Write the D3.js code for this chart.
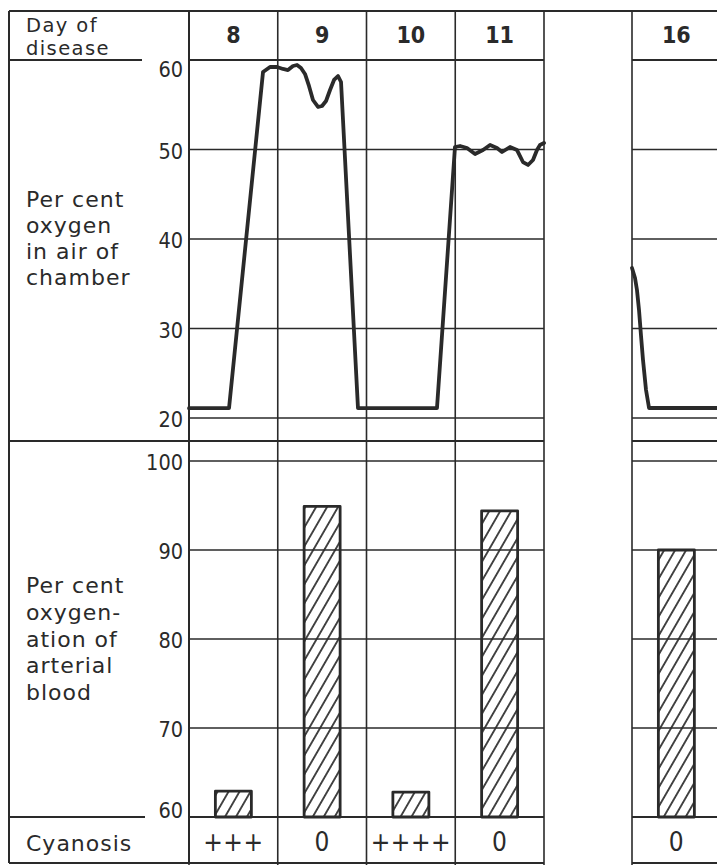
<!DOCTYPE html>
<html>
<head>
<meta charset="utf-8">
<script src="https://cdn.jsdelivr.net/npm/d3@7/dist/d3.min.js"></script>
<style>
  html, body { margin: 0; padding: 0; background: #fff; }
  svg { display: block; }
</style>
</head>
<body>
<script>
// ---------- DATA ----------
const days = [8, 9, 10, 11, 16];
const cyanosis = ["+++", "0", "++++", "0", "0"];
const bloodOxygen = [62.9, 94.9, 62.8, 94.4, 90.0];
const airTicks = [20, 30, 40, 50, 60];
const bloodTicks = [60, 70, 80, 90, 100];
const columnEdges = [8, 9, 10, 11, 12, 16, 17];
const segments = [[8, 12], [16, 17]];

// oxygen in chamber air, days 8-12 (continuous record)
const airDays1 = [8.0, 8.451, 8.834, 8.913, 8.992, 9.059, 9.115, 9.172, 9.217, 9.262, 9.307, 9.352,
                  9.397, 9.454, 9.499, 9.544, 9.589, 9.634, 9.679, 9.713, 9.904,
                  10.794, 10.997, 11.054, 11.132, 11.223, 11.313, 11.392, 11.470, 11.527, 11.617,
                  11.696, 11.763, 11.820, 11.876, 11.921, 11.955, 12.0];
const airVals1 = [21.1, 21.1, 58.66, 59.22, 59.22, 59.0, 58.88, 59.33, 59.44, 59.1, 58.44, 57.1,
                  55.53, 54.75, 54.86, 55.42, 56.65, 57.77, 58.21, 57.54, 21.1,
                  21.1, 50.28, 50.39, 50.17, 49.5, 49.94, 50.5, 50.17, 49.72, 50.28,
                  49.94, 48.6, 48.27, 48.83, 49.94, 50.5, 50.73];
// day 16 record
const airDays2 = [16.0, 16.034, 16.056, 16.079, 16.101, 16.124, 16.158, 16.192, 17.0];
const airVals2 = [36.76, 35.64, 34.3, 32.07, 29.27, 26.48, 23.13, 21.12, 21.12];

const labelAir = ["Per cent", "oxygen", "in air of", "chamber"];
const labelBlood = ["Per cent", "oxygen-", "ation of", "arterial", "blood"];
const labelDay = ["Day of", "disease"];
const labelCyan = "Cyanosis";

// ---------- DRAW ----------
(function () {
const W = 717, H = 865;
const ink = "#2a2a2a";
const svg = d3.select("body").append("svg").attr("width", W).attr("height", H);

const x = d3.scaleLinear().domain([8, 12, 16, 17]).range([189, 544, 632, 720.75]);
const yAir = d3.scaleLinear().domain([20, 60]).range([418, 60]);
const yBlood = d3.scaleLinear().domain([60, 100]).range([817, 461]);

const frameL = 9, frameT = 11, labelRight = 189, divider = 441, frameB = 863;

const defs = svg.append("defs");
const pat = defs.append("pattern").attr("id", "hatch").attr("patternUnits", "userSpaceOnUse")
  .attr("width", 9.5).attr("height", 9.5).attr("patternTransform", "rotate(30)");
pat.append("line").attr("x1", 4.75).attr("y1", -2).attr("x2", 4.75).attr("y2", 12)
  .attr("stroke", ink).attr("stroke-width", 1.7);

const grid = svg.append("g").attr("stroke", ink).attr("fill", "none");

// outer frame
grid.append("line").attr("x1", frameL).attr("x2", W).attr("y1", frameT).attr("y2", frameT).attr("stroke-width", 2);
grid.append("line").attr("x1", frameL).attr("x2", frameL).attr("y1", frameT).attr("y2", frameB).attr("stroke-width", 2);
grid.append("line").attr("x1", labelRight).attr("x2", labelRight).attr("y1", frameT).attr("y2", frameB).attr("stroke-width", 2);

// label column rules
grid.append("line").attr("x1", frameL).attr("x2", 142).attr("y1", yAir(60)).attr("y2", yAir(60)).attr("stroke-width", 2);
grid.append("line").attr("x1", frameL).attr("x2", labelRight).attr("y1", divider).attr("y2", divider).attr("stroke-width", 2);
grid.append("line").attr("x1", frameL).attr("x2", 145).attr("y1", yBlood(60)).attr("y2", yBlood(60)).attr("stroke-width", 2);
grid.append("line").attr("x1", frameL).attr("x2", labelRight).attr("y1", frameB).attr("y2", frameB).attr("stroke-width", 2);

// column edges
columnEdges.forEach(d => {
  grid.append("line").attr("x1", x(d)).attr("x2", x(d)).attr("y1", frameT).attr("y2", H)
    .attr("stroke-width", 1.6);
});

// horizontal rules per segment
segments.forEach(([a, b]) => {
  const x1 = x(a), x2 = x(b);
  airTicks.forEach(t => {
    grid.append("line").attr("x1", x1).attr("x2", x2).attr("y1", yAir(t)).attr("y2", yAir(t))
      .attr("stroke-width", t === 60 ? 2 : 1.5);
  });
  bloodTicks.forEach(t => {
    grid.append("line").attr("x1", x1).attr("x2", x2).attr("y1", yBlood(t)).attr("y2", yBlood(t))
      .attr("stroke-width", t === 60 ? 2 : 1.5);
  });
  grid.append("line").attr("x1", x1).attr("x2", x2).attr("y1", divider).attr("y2", divider).attr("stroke-width", 2);
  grid.append("line").attr("x1", x1).attr("x2", x2).attr("y1", frameB).attr("y2", frameB).attr("stroke-width", 2);
});

// tick labels
const tickFont = "'Liberation Sans Narrow', 'DejaVu Sans Condensed', sans-serif";
airTicks.forEach(t => {
  svg.append("text").attr("x", 183).attr("y", yAir(t) + (t === 60 ? 17 : 9))
    .attr("text-anchor", "end").attr("font-family", tickFont).attr("font-size", 21.5)
    .attr("fill", ink).text(t);
});
bloodTicks.forEach(t => {
  svg.append("text").attr("x", 183).attr("y", yBlood(t) + (t === 60 ? 1 : 9))
    .attr("text-anchor", "end").attr("font-family", tickFont).attr("font-size", 21.5)
    .attr("fill", ink).text(t);
});

// day labels
days.forEach(d => {
  svg.append("text").attr("x", x(d + 0.5)).attr("y", 43).attr("text-anchor", "middle")
    .attr("font-family", tickFont).attr("font-weight", "bold").attr("font-size", 23)
    .attr("fill", ink).text(d);
});

// cyanosis row
days.forEach((d, i) => {
  svg.append("text").attr("x", x(d + 0.5)).attr("y", 851).attr("text-anchor", "middle")
    .attr("font-family", tickFont).attr("font-size", 26).attr("letter-spacing", 0.5)
    .attr("fill", ink).text(cyanosis[i]);
});

// row labels
const labFont = "'DejaVu Sans', sans-serif";
function block(lines, y0, step, size, spacing) {
  lines.forEach((s, i) => {
    svg.append("text").attr("x", 26).attr("y", y0 + i * step)
      .attr("font-family", labFont).attr("font-size", size).attr("letter-spacing", spacing)
      .attr("fill", ink).text(s);
  });
}
block(labelDay, 32, 23, 19.5, 1.4);
block(labelAir, 207, 26, 22, 1);
block(labelBlood, 593, 26.8, 22, 1);
block([labelCyan], 851, 0, 22, 1);

// bars
const barW = 36;
svg.append("g").selectAll("rect").data(days).join("rect")
  .attr("x", d => x(d + 0.5) - barW / 2)
  .attr("width", barW)
  .attr("y", (d, i) => yBlood(bloodOxygen[i]))
  .attr("height", (d, i) => yBlood(60) - yBlood(bloodOxygen[i]))
  .attr("fill", "url(#hatch)")
  .attr("stroke", ink).attr("stroke-width", 2.8).attr("stroke-linejoin", "round");

// oxygen line
const line = d3.line().x(d => x(d[0])).y(d => yAir(d[1])).curve(d3.curveLinear);
const seg1 = airDays1.map((d, i) => [d, airVals1[i]]);
const seg2 = airDays2.map((d, i) => [d, airVals2[i]]);
[seg1, seg2].forEach(s => {
  svg.append("path").datum(s).attr("d", line).attr("fill", "none")
    .attr("stroke", ink).attr("stroke-width", 3.8).attr("stroke-linejoin", "round")
    .attr("stroke-linecap", "round");
});
})();
</script>
</body>
</html>
